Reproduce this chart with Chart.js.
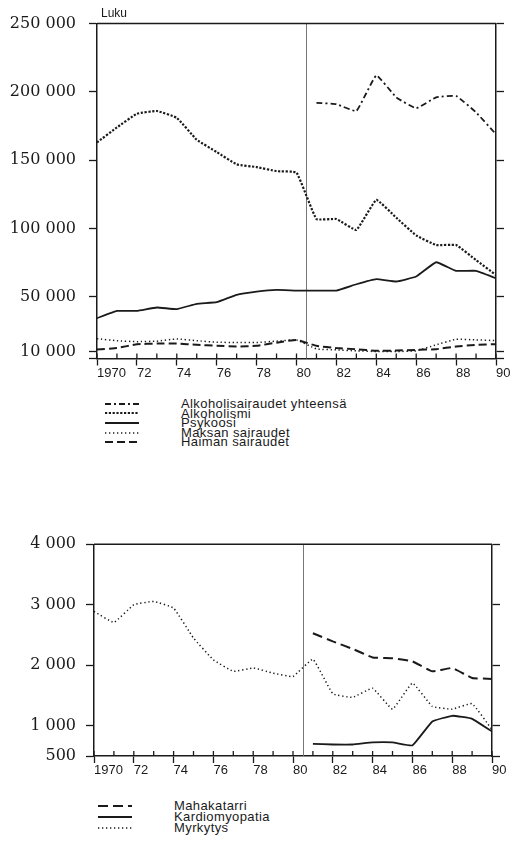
<!DOCTYPE html>
<html lang="fi">
<head>
  <meta charset="UTF-8">
  <title>Alkoholisairaudet</title>
  <script src="https://cdn.jsdelivr.net/npm/chart.js"></script>
  <style>
    body { margin: 0; background: #fff; }
    #page { position: relative; width: 520px; height: 843px; overflow: hidden; }
    canvas { position: absolute; left: 0; }
    .luku { position: absolute; left: 101px; top: 6px; font: 12px "Liberation Sans", Arial, sans-serif; color: #1a1a1a; }
    .legend { position: absolute; left: 105px; font: 13px "Liberation Sans", Arial, sans-serif; letter-spacing: 0.4px; color: #1a1a1a; }
    .legend div { position: relative; white-space: nowrap; }
    .legend svg { position: absolute; left: 0; }
    .legend span { position: absolute; left: 76px; top: 0; }
  </style>
</head>
<body>
<div id="page">
  <canvas id="ylempi" width="520" height="390" style="top:0"></canvas>
  <div class="luku">Luku</div>
  <div class="legend" id="legendaYla" style="top:399px"></div>
  <canvas id="alempi" width="520" height="270" style="top:520px"></canvas>
  <div class="legend" id="legendaAla" style="top:800px; left:98px"></div>
</div>

<script>
  const vuodet = [1970, 1971, 1972, 1973, 1974, 1975, 1976, 1977, 1978, 1979, 1980,
                  1981, 1982, 1983, 1984, 1985, 1986, 1987, 1988, 1989, 1990];
  const katko = 1980.5;

  // ylempi kuvio
  const alkYhteensa = [null, null, null, null, null, null, null, null, null, null, null,
                       192000, 191000, 186000, 212000, 196000, 188000, 196000, 197000, 185000, 169000];
  const alkoholismi = [163000, 174000, 184000, 186000, 181000, 165000, 156000, 147000, 145000, 142000, 141000,
                       107000, 107000, 99000, 121000, 108000, 95000, 88000, 88000, 77000, 66000];
  const psykoosi = [34500, 39800, 39800, 42300, 41100, 45000, 46200, 51600, 53900, 55200, 54700,
                    54700, 54700, 59300, 63000, 61300, 65000, 75400, 69100, 69100, 63700];
  const maksan = [19500, 18000, 17300, 17700, 19300, 18000, 16900, 16700, 16700, 17700, 18600,
                  12000, 11300, 10600, 10100, 10100, 10600, 15000, 19100, 18600, 18100];
  const haiman = [11500, 12700, 15400, 15900, 15900, 15000, 14300, 13800, 14300, 16600, 18600,
                  14300, 12600, 11800, 10600, 10800, 11300, 11800, 13800, 15000, 15500];
  const ylaTicks = [5000, 10000, 50000, 100000, 150000, 200000, 250000];

  // alempi kuvio
  const mahakatarri = [null, null, null, null, null, null, null, null, null, null, null,
                       2530, 2395, 2270, 2130, 2115, 2065, 1900, 1955, 1790, 1775];
  const kardiomyopatia = [null, null, null, null, null, null, null, null, null, null, null,
                          700, 690, 690, 725, 725, 675, 1070, 1165, 1115, 905];
  const myrkytys = [2890, 2710, 3000, 3055, 2945, 2450, 2090, 1900, 1955, 1870, 1815,
                    2100, 1530, 1470, 1620, 1275, 1705, 1320, 1275, 1365, 935];
  const alaTicks = [500, 1000, 2000, 3000, 4000];

  const muste = '#1a1a1a';

  const tyylit = {
    pistejana: { dash: [6, 3, 2, 3], width: 1.8 },
    tiheä: { dash: [2.2, 1.6], width: 2.2 },
    yhtenäinen: { dash: [], width: 1.8 },
    harva: { dash: [1.3, 2.7], width: 1.5 },
    katko: { dash: [8, 4], width: 2 },
    pitkäkatko: { dash: [10, 5], width: 2 }
  };

  function sarja(nimi, arvot, tyyli) {
    return {
      label: nimi,
      data: vuodet.map((v, i) => ({ x: v, y: arvot[i] })),
      borderColor: muste,
      borderWidth: tyylit[tyyli].width,
      borderDash: tyylit[tyyli].dash,
      pointRadius: 0,
      tension: 0.1,
      fill: false
    };
  }

  function muotoile(v) {
    return String(v).replace(/\B(?=(\d{3})+(?!\d))/g, ' ');
  }

  const kehys = {
    id: 'kehys',
    beforeDatasetsDraw(chart) {
      const { ctx, chartArea: a, scales: { x } } = chart;
      const sx = Math.round(x.getPixelForValue(katko)) + 0.5;
      ctx.save();
      ctx.strokeStyle = '#777';
      ctx.lineWidth = 1;
      ctx.beginPath();
      ctx.moveTo(sx, a.top);
      ctx.lineTo(sx, a.bottom);
      ctx.stroke();
      ctx.restore();
    },
    afterDraw(chart) {
      const { ctx, chartArea: a, scales: { x } } = chart;
      ctx.save();
      ctx.strokeStyle = muste;
      ctx.lineWidth = 1.5;
      ctx.beginPath();
      ctx.moveTo(a.left, a.top);
      ctx.lineTo(a.right, a.top);
      ctx.stroke();
      ctx.lineWidth = 1.3;
      ctx.beginPath();
      vuodet.forEach(v => {
        const px = x.getPixelForValue(v);
        ctx.moveTo(px, a.bottom);
        ctx.lineTo(px, a.bottom - 5);
      });
      ctx.stroke();
      ctx.restore();
    }
  };

  function teeKuvio(id, sarjat, yMin, yMax, yTicks, ylaTyhja, xKorkeus, vasenPad, vasen, oikea) {
    const yAkseli = (paikka, leveys, nayta) => ({
      type: 'linear',
      position: paikka,
      min: yMin,
      max: yMax,
      afterBuildTicks: s => { s.ticks = yTicks.map(v => ({ value: v })); },
      afterFit: s => { s.width = leveys; },
      border: { display: true, color: muste, width: 1.5 },
      grid: { drawOnChartArea: false, tickLength: 8, tickWidth: 1.3, tickColor: muste },
      ticks: {
        padding: vasenPad,
        color: muste,
        font: { family: '"DejaVu Serif", serif', size: 16 },
        callback: v => (nayta && (v >= yTicks[1] || yTicks[0] === 500)) ? muotoile(v) : ''
      }
    });
    return new Chart(document.getElementById(id), {
      type: 'line',
      data: { datasets: sarjat },
      options: {
        responsive: false,
        animation: false,
        devicePixelRatio: 1,
        layout: { padding: { top: ylaTyhja, left: 0, right: 0, bottom: 0 } },
        plugins: { legend: { display: false }, tooltip: { enabled: false } },
        scales: {
          x: {
            type: 'linear',
            min: 1970,
            max: 1990,
            afterBuildTicks: s => { s.ticks = vuodet.map(v => ({ value: v })); },
            afterFit: s => { s.height = xKorkeus; },
            border: { display: true, color: muste, width: 1.5 },
            grid: {
              drawOnChartArea: false,
              tickLength: 7,
              tickWidth: 1.3,
              tickColor: c => (c.tick && c.tick.value % 2 === 0) ? muste : 'rgba(0,0,0,0)'
            },
            ticks: {
              align: 'start',
              padding: 0,
              autoSkip: false,
              maxRotation: 0,
              color: muste,
              font: { family: '"Liberation Sans", Arial, sans-serif', size: 13 },
              callback: v => v % 2 !== 0 ? '' : (v === 1970 ? '1970' : String(v).slice(2))
            }
          },
          y: yAkseli('left', vasen, true),
          y2: yAkseli('right', oikea, false)
        }
      },
      plugins: [kehys]
    });
  }

  const ylaSarjat = [
    sarja('Alkoholisairaudet yhteensä', alkYhteensa, 'pistejana'),
    sarja('Alkoholismi', alkoholismi, 'tiheä'),
    sarja('Psykoosi', psykoosi, 'yhtenäinen'),
    sarja('Maksan sairaudet', maksan, 'harva'),
    sarja('Haiman sairaudet', haiman, 'katko')
  ];
  const alaSarjat = [
    sarja('Mahakatarri', mahakatarri, 'pitkäkatko'),
    sarja('Kardiomyopatia', kardiomyopatia, 'yhtenäinen'),
    sarja('Myrkytys', myrkytys, 'harva')
  ];

  teeKuvio('ylempi', ylaSarjat, 5000, 250000, ylaTicks, 23.5, 31.5, 13, 97, 24);
  teeKuvio('alempi', alaSarjat, 500, 4000, alaTicks, 24.3, 34, 10, 94, 28);

  function legenda(id, sarjat, rivinKorkeus) {
    const el = document.getElementById(id);
    sarjat.forEach(s => {
      const rivi = document.createElement('div');
      rivi.style.height = rivinKorkeus + 'px';
      rivi.style.lineHeight = rivinKorkeus + 'px';
      const dash = s.borderDash.length ? s.borderDash.join(' ') : 'none';
      rivi.innerHTML = '<svg width="34" height="6" style="top:' + (rivinKorkeus / 2 - 3) + 'px"><line x1="0" y1="3" x2="34" y2="3" stroke="' + muste +
        '" stroke-width="' + s.borderWidth + '" stroke-dasharray="' + dash + '"/></svg><span></span>';
      rivi.querySelector('span').textContent = s.label;
      el.appendChild(rivi);
    });
  }
  legenda('legendaYla', ylaSarjat, 9.6);
  legenda('legendaAla', alaSarjat, 11);
</script>
</body>
</html>
